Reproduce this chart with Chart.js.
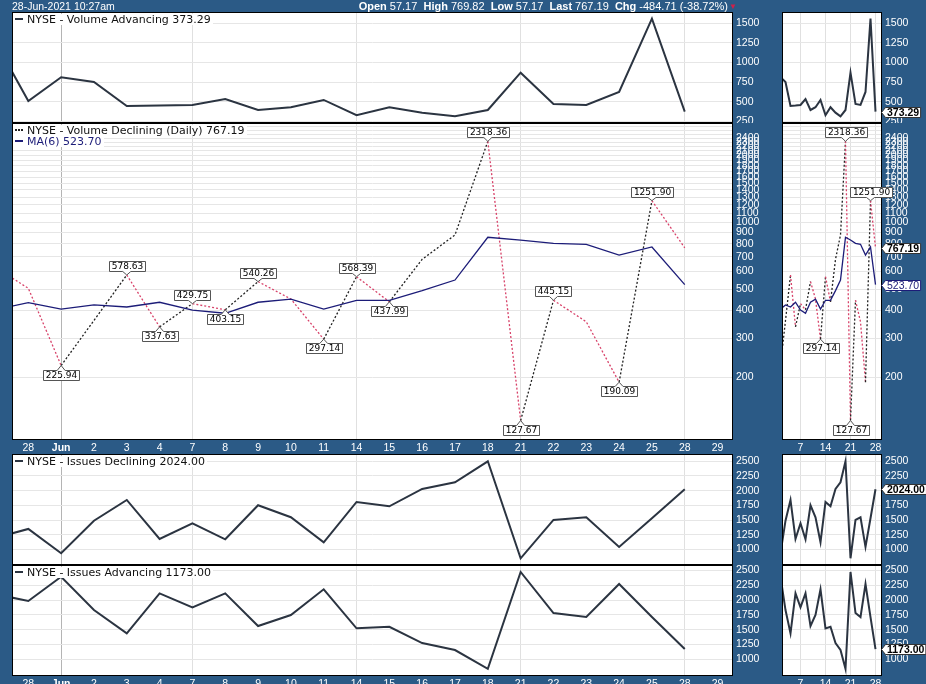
<!DOCTYPE html>
<html><head><meta charset="utf-8">
<script src="https://cdn.jsdelivr.net/npm/chart.js@4"></script>
<style>
html,body{margin:0;padding:0;}
body{width:926px;height:684px;overflow:hidden;background:#2b5a86;position:relative;font-family:'Liberation Sans',Arial,sans-serif;}
.box{position:absolute;}
.hdr{position:absolute;top:0;color:#fff;font-size:11px;line-height:12px;white-space:nowrap;z-index:6;}
.hdr b{font-weight:bold;}
.lg{position:absolute;font-family:'DejaVu Sans',sans-serif;font-size:11px;line-height:11px;background:#fff;color:#111;white-space:nowrap;padding-right:2px;z-index:5;}
.dash{display:inline-block;width:8px;height:0;border-top:2px solid #2b3441;vertical-align:middle;margin:0 4px 2px 2px;}
.dots{display:inline-block;width:8px;height:0;border-top:2px dotted #222;vertical-align:middle;margin:0 4px 2px 2px;}
</style>
</head><body>
<div class="hdr" style="left:12px;font-size:10.5px;">28-Jun-2021 10:27am</div>
<div class="hdr" id="quote" style="right:198px;"><b>Open</b> 57.17&nbsp; <b>High</b> 769.82&nbsp; <b>Low</b> 57.17&nbsp; <b>Last</b> 767.19&nbsp; <b>Chg</b> -484.71 (-38.72%)</div>
<div class="hdr" style="left:729px;color:#d0204a;font-size:8px;top:1px;">&#9660;</div>

<div class="lg" style="left:13px;top:14px;"><span class="dash"></span>NYSE - Volume Advancing 373.29</div>
<div class="lg" style="left:13px;top:125px;"><span class="dots"></span>NYSE - Volume Declining (Daily) 767.19</div>
<div class="lg" style="left:13px;top:136px;color:#1c1c78;"><span class="dash" style="border-color:#1c1c78"></span>MA(6) 523.70</div>
<div class="lg" style="left:13px;top:456px;"><span class="dash"></span>NYSE - Issues Declining 2024.00</div>
<div class="lg" style="left:13px;top:567px;"><span class="dash"></span>NYSE - Issues Advancing 1173.00</div>

<script>
// ---------------- data ----------------
const dates = ['27','28','Jun','2','3','4','7','8','9','10','11','14','15','16','17','18','21','22','23','24','25','28','29'];
const volAdv = [1261, 509, 811, 751, 445, 450, 458, 534, 394, 429, 522, 327, 429, 360, 314, 394, 870, 471, 458, 624, 1560, 373.29];
const volDec = [626, 504, 225.94, 361, 578.63, 337.63, 429.75, 403.15, 540.26, 451, 297.14, 568.39, 437.99, 681, 877, 2318.36, 127.67, 445.15, 356, 190.09, 1251.90, 767.19];
const volDecMA = [404, 434, 406, 424, 415, 436, 402, 389, 436, 450, 406, 445, 445, 492, 549, 856, 832, 804, 796, 712, 774, 523.70];
const issDec = [1197, 1349, 935, 1490, 1842, 1179, 1446, 1173, 1752, 1548, 1122, 1808, 1735, 2029, 2143, 2500, 850, 1502, 1548, 1043, 1531, 2024];
const issAdv = [2100, 1985, 2395, 1832, 1438, 2114, 1878, 2114, 1562, 1748, 2182, 1523, 1550, 1275, 1157, 840, 2475, 1782, 1714, 2272, 1714, 1173];

const volAdvTicks = [250, 500, 750, 1000, 1250, 1500];
const volDecTicks = [200,300,400,500,600,700,800,900,1000,1100,1200,1300,1400,1500,1600,1700,1800,1900,2000,2100,2200,2300,2400,2500,2600,2700];
const issTicks = [1000, 1250, 1500, 1750, 2000, 2250, 2500];
const mainXTicks = [1,2,3,4,5,6,7,8,9,10,11,12,13,14,15,16,17,18,19,20,21,22];
const miniXTicks = [6, 11, 16, 21];
const weekStarts = [6, 11, 16, 21];
const monthStart = 2;
const mainPeaks = [4, 6, 8, 11, 15, 17, 20];
const mainTroughs = [2, 5, 7, 10, 12, 16, 19];
const miniPeaks = [15, 20];
const miniTroughs = [10, 16];

// ---------------- helpers ----------------
const TICKFONT = 'Liberation Sans';
const LINE = '#2b3441';
const pts = arr => arr.map((v, i) => ({x: i, y: v}));

function drawCallout(ctx, x, y, text, above) {
  ctx.save();
  ctx.font = '9px "DejaVu Sans"';
  const tw = ctx.measureText(text).width;
  const bw = Math.round(tw + 5), bh = 10, gap = 4;
  const bx = Math.round(x - bw / 2) + 0.5;
  const by = above ? Math.round(y - gap - bh) + 0.5 : Math.round(y + gap) + 0.5;
  ctx.beginPath();
  if (above) {
    ctx.moveTo(bx, by); ctx.lineTo(bx + bw, by); ctx.lineTo(bx + bw, by + bh);
    ctx.lineTo(x + 4, by + bh); ctx.lineTo(x, y); ctx.lineTo(x - 4, by + bh); ctx.lineTo(bx, by + bh);
  } else {
    ctx.moveTo(bx, by); ctx.lineTo(x - 4, by); ctx.lineTo(x, y); ctx.lineTo(x + 4, by);
    ctx.lineTo(bx + bw, by); ctx.lineTo(bx + bw, by + bh); ctx.lineTo(bx, by + bh);
  }
  ctx.closePath();
  ctx.fillStyle = '#fff'; ctx.fill();
  ctx.strokeStyle = '#555'; ctx.lineWidth = 1; ctx.stroke();
  ctx.fillStyle = '#000'; ctx.textAlign = 'center'; ctx.textBaseline = 'middle';
  ctx.fillText(text, bx + bw / 2, by + bh / 2 + 0.5);
  ctx.restore();
}

function drawMarker(ctx, x, y, text, bold, color, border) {
  ctx.save();
  ctx.font = (bold ? 'bold ' : '') + '10.5px "Liberation Sans"';
  const tw = ctx.measureText(text).width;
  const h = 10, tip = 4;
  y = Math.round(y) + 0.5; x = Math.round(x) + 0.5;
  ctx.beginPath();
  ctx.moveTo(x, y); ctx.lineTo(x + tip, y - h / 2); ctx.lineTo(x + tip + tw + 3, y - h / 2);
  ctx.lineTo(x + tip + tw + 3, y + h / 2); ctx.lineTo(x + tip, y + h / 2); ctx.closePath();
  ctx.fillStyle = '#fff'; ctx.fill();
  ctx.strokeStyle = border; ctx.lineWidth = 1; ctx.stroke();
  ctx.fillStyle = color; ctx.textAlign = 'left'; ctx.textBaseline = 'middle';
  ctx.fillText(text, x + tip + 1.5, y + 0.5);
  ctx.restore();
}

function zeroPad(s) { s.paddingTop = 0; s.paddingBottom = 0; s.paddingLeft = 0; s.paddingRight = 0; }

function panel(o) {
  const div = document.createElement('div');
  div.className = 'box';
  div.style.left = o.left + 'px'; div.style.top = o.top + 'px';
  div.style.width = (o.w + o.axisW) + 'px'; div.style.height = (o.h + o.band) + 'px';
  const c = document.createElement('canvas');
  div.appendChild(c); document.body.appendChild(div);

  const framePlugin = {
    id: 'frame',
    beforeDraw(chart) {
      const a = chart.chartArea, ctx = chart.ctx;
      ctx.save(); ctx.fillStyle = '#fff'; ctx.fillRect(a.left, a.top, a.width, a.height); ctx.restore();
    },
    afterDraw(chart) {
      const a = chart.chartArea, ctx = chart.ctx;
      ctx.save(); ctx.strokeStyle = '#000'; ctx.lineWidth = 1;
      ctx.strokeRect(a.left + 0.5, a.top + 0.5, a.width - 1, a.height - 1); ctx.restore();
      const xs = chart.scales.x, ys = chart.scales.y;
      if (o.callouts) {
        const src = o.callouts.data;
        o.callouts.peaks.forEach(i => drawCallout(ctx, xs.getPixelForValue(i), ys.getPixelForValue(src[i]), src[i].toFixed(2), true));
        o.callouts.troughs.forEach(i => drawCallout(ctx, xs.getPixelForValue(i), ys.getPixelForValue(src[i]), src[i].toFixed(2), false));
      }
      if (o.markers) {
        o.markers.forEach(m => {
          const v = m.data[m.data.length - 1];
          drawMarker(ctx, a.right - 1, ys.getPixelForValue(v), v.toFixed(2), m.bold, m.color, m.border);
        });
      }
    }
  };

  return new Chart(c, {
    type: 'line',
    data: {datasets: o.datasets},
    plugins: [framePlugin],
    options: {
      responsive: true, maintainAspectRatio: false, animation: false,
      layout: {padding: 0, autoPadding: false},
      plugins: {legend: {display: false}, tooltip: {enabled: false}},
      elements: {point: {radius: 0}, line: {tension: 0}},
      scales: {
        x: {
          type: 'linear', position: 'bottom', min: o.xMin, max: o.xMax,
          afterBuildTicks: s => { s.ticks = o.xTicks.map(v => ({value: v})); },
          afterFit: s => { s.height = o.band; zeroPad(s); },
          ticks: {
            display: o.xLabels, autoSkip: false, maxRotation: 0, minRotation: 0, padding: 2, color: '#fff',
            font: ctx => ({family: TICKFONT, size: 10.5, weight: (ctx.tick && ctx.tick.value === monthStart) ? 'bold' : 'normal'}),
            callback: v => dates[v]
          },
          grid: {
            drawTicks: false, lineWidth: 1,
            color: ctx => {
              const v = ctx.tick ? ctx.tick.value : -1;
              if (v === monthStart && !o.mini) return '#b4b4b4';
              if (weekStarts.includes(v)) return '#e0e0e0';
              return 'rgba(0,0,0,0)';
            }
          },
          border: {display: false}
        },
        y: {
          type: o.yType, position: 'right', min: o.yMin, max: o.yMax,
          afterBuildTicks: s => { s.ticks = o.yTicks.map(v => ({value: v})); },
          afterFit: s => { s.width = o.axisW; zeroPad(s); },
          ticks: {autoSkip: false, padding: 3, color: '#fff', font: {family: TICKFONT, size: 10.5},
                  callback: v => (o.yLabelMax && v > o.yLabelMax) ? '' : String(v)},
          grid: {drawTicks: false, color: '#e6e6e6', lineWidth: 1},
          border: {display: false}
        }
      }
    }
  });
}

const lineDs = arr => ({data: pts(arr), borderColor: LINE, borderWidth: 2, pointRadius: 0});
const decDs = () => ({
  data: pts(volDec), borderWidth: 1.3, borderDash: [2, 2], borderColor: '#222', pointRadius: 0,
  segment: {borderColor: ctx => ctx.p1.parsed.y >= ctx.p0.parsed.y ? '#222' : '#d8436a'}
});
const maDs = () => ({data: pts(volDecMA), borderColor: '#1c1c78', borderWidth: 1.3, pointRadius: 0});

const MAIN = {left: 12, w: 721, axisW: 45, xMin: 0.503, xMax: 22.47, xTicks: mainXTicks, mini: false};
const MINI = {left: 782, w: 100, axisW: 44, xMin: 2.3, xMax: 22.3, xTicks: miniXTicks, mini: true};

const P1 = {top: 12, h: 111, band: 0, xLabels: false, yType: 'linear', yMin: 228, yMax: 1644, yTicks: volAdvTicks};
const P2 = {top: 123, h: 317, band: 14, xLabels: true, yType: 'logarithmic', yMin: 104.3, yMax: 2805, yTicks: volDecTicks, yLabelMax: 2400};
const P3 = {top: 454, h: 111, band: 0, xLabels: false, yType: 'linear', yMin: 736, yMax: 2624, yTicks: issTicks};
const P4 = {top: 565, h: 111, band: 14, xLabels: true, yType: 'linear', yMin: 718, yMax: 2593, yTicks: issTicks};

// main panels
panel(Object.assign({}, MAIN, P1, {datasets: [lineDs(volAdv)]}));
panel(Object.assign({}, MAIN, P2, {datasets: [maDs(), decDs()],
  callouts: {data: volDec, peaks: mainPeaks, troughs: mainTroughs}}));
panel(Object.assign({}, MAIN, P3, {datasets: [lineDs(issDec)]}));
panel(Object.assign({}, MAIN, P4, {datasets: [lineDs(issAdv)]}));

// mini panels
panel(Object.assign({}, MINI, P1, {datasets: [lineDs(volAdv)],
  markers: [{data: volAdv, bold: true, color: '#000', border: '#333'}]}));
panel(Object.assign({}, MINI, P2, {datasets: [maDs(), decDs()],
  callouts: {data: volDec, peaks: miniPeaks, troughs: miniTroughs},
  markers: [{data: volDec, bold: true, color: '#000', border: '#333'},
            {data: volDecMA, bold: false, color: '#1c1c78', border: '#1c1c78'}]}));
panel(Object.assign({}, MINI, P3, {datasets: [lineDs(issDec)],
  markers: [{data: issDec, bold: true, color: '#000', border: '#333'}]}));
panel(Object.assign({}, MINI, P4, {datasets: [lineDs(issAdv)],
  markers: [{data: issAdv, bold: true, color: '#000', border: '#333'}]}));
</script>
</body></html>
